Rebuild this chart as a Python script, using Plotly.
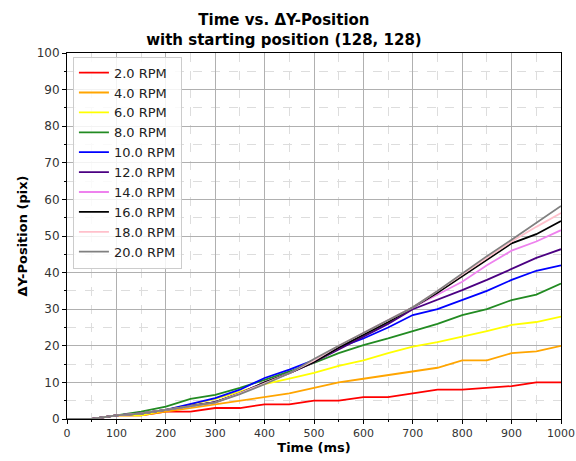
import plotly.graph_objects as go

time_ms = [0, 50, 100, 150, 200, 250, 300, 350, 400, 450, 500,
           550, 600, 650, 700, 750, 800, 850, 900, 950, 1000]

rpm_labels = ["2.0 RPM", "4.0 RPM", "6.0 RPM", "8.0 RPM", "10.0 RPM",
              "12.0 RPM", "14.0 RPM", "16.0 RPM", "18.0 RPM", "20.0 RPM"]
rpm_colors = ["red", "orange", "yellow", "forestgreen", "blue",
              "indigo", "violet", "black", "pink", "gray"]

dy_2 = [0, 0, 1, 1, 2, 2, 3, 3, 4, 4, 5, 5, 6, 6, 7, 8, 8, 8.5, 9, 10, 10]
dy_4 = [0, 0, 1, 1, 2, 3, 4, 5, 6, 7, 8.5, 10, 11, 12, 13, 14, 16, 16, 18, 18.5, 20]
dy_6 = [0, 0, 1, 1, 2.5, 4, 5.5, 7.5, 9.5, 11, 12.6, 14.5, 16, 18, 19.8, 21, 22.4, 24, 25.7, 26.5, 28]
dy_8 = [0, 0, 1, 2, 3.4, 5.5, 6.6, 8.5, 10.7, 13, 15.3, 18, 20.2, 22, 23.9, 26, 28.4, 30, 32.5, 34, 37]
dy_10 = [0, 0, 1, 1.5, 2.5, 4, 5.7, 8, 11.2, 13.5, 16.1, 19.5, 22, 25, 28.4, 30, 32.5, 35, 38, 40.5, 42]
dy_12 = [0, 0, 1, 1.5, 2.5, 3.5, 4.6, 7, 10, 12.5, 15.5, 19, 22.5, 26, 30, 32.5, 35.2, 38, 41, 44, 46.4]
dy_14 = [0, 0, 1, 1.5, 2.5, 3.5, 4.6, 7, 10, 12.5, 15.5, 19.5, 23.5, 27, 30.5, 34, 37.5, 42, 46, 48.5, 51.6]
dy_16 = [0, 0, 1, 1.5, 2.5, 3.5, 4.6, 7, 10, 12.5, 15.5, 19.5, 23, 26.5, 30.5, 34.5, 39, 43.5, 48, 50.5, 54.1]
dy_18 = [0, 0, 1, 1.5, 2.5, 3.5, 4.5, 7, 9.8, 12.5, 16, 20, 23.5, 27, 30.5, 35, 39.5, 44, 48.5, 52.5, 56.3]
dy_20 = [0, 0, 1, 1.5, 2.5, 3.5, 4.5, 6.8, 9.5, 12.5, 16.4, 20, 23.5, 27, 30.5, 35, 39.8, 44.5, 49, 53.5, 58.2]

series = [dy_2, dy_4, dy_6, dy_8, dy_10, dy_12, dy_14, dy_16, dy_18, dy_20]

fig = go.Figure()
for lab, col, ys in zip(rpm_labels, rpm_colors, series):
    fig.add_trace(go.Scatter(x=time_ms, y=ys, mode="lines", name=lab,
                             line=dict(color=col, width=1.8)))

axis_common = dict(
    showline=True, linecolor="black", linewidth=1, mirror=True,
    ticks="outside", ticklen=4, tickcolor="black",
    showgrid=True, gridcolor="#b0b0b0", gridwidth=1,
    zeroline=False, automargin=False,
)

fig.update_xaxes(range=[0, 1000], dtick=100, tick0=0,
                 tickfont=dict(family="DejaVu Sans", size=11, color="#333"),
                 title=dict(text="<b>Time (ms)</b>", font=dict(family="DejaVu Sans", size=13, color="black"), standoff=2),
                 minor=dict(dtick=50, ticks="outside", ticklen=2, tickcolor="black",
                            showgrid=True, gridcolor="#dddddd", griddash="dash"),
                 **axis_common)
fig.update_yaxes(range=[0, 100], dtick=10, tick0=0,
                 tickfont=dict(family="DejaVu Sans", size=12, color="#333"),
                 title=dict(text="<b>ΔY-Position (pix)</b>", font=dict(family="DejaVu Sans", size=13, color="black"), standoff=6),
                 minor=dict(dtick=5, ticks="outside", ticklen=2, tickcolor="black",
                            showgrid=True, gridcolor="#dddddd", griddash="dash"),
                 **axis_common)

fig.update_layout(
    width=576, height=461,
    margin=dict(l=67, r=15, t=53, b=42),
    paper_bgcolor="white", plot_bgcolor="white",
    title=dict(text="<b>Time vs. ΔY-Position<br>with starting position (128, 128)</b>",
               x=0.493, xanchor="center", yref="container", y=0.945, yanchor="top",
               font=dict(family="DejaVu Sans", size=15, color="black")),
    legend=dict(x=0.012, y=0.99, xanchor="left", yanchor="top",
                bgcolor="rgba(255,255,255,0.85)", bordercolor="#cccccc", borderwidth=1,
                font=dict(family="DejaVu Sans", size=13, color="#222")),
    showlegend=True,
)

fig.write_html("out.html")
